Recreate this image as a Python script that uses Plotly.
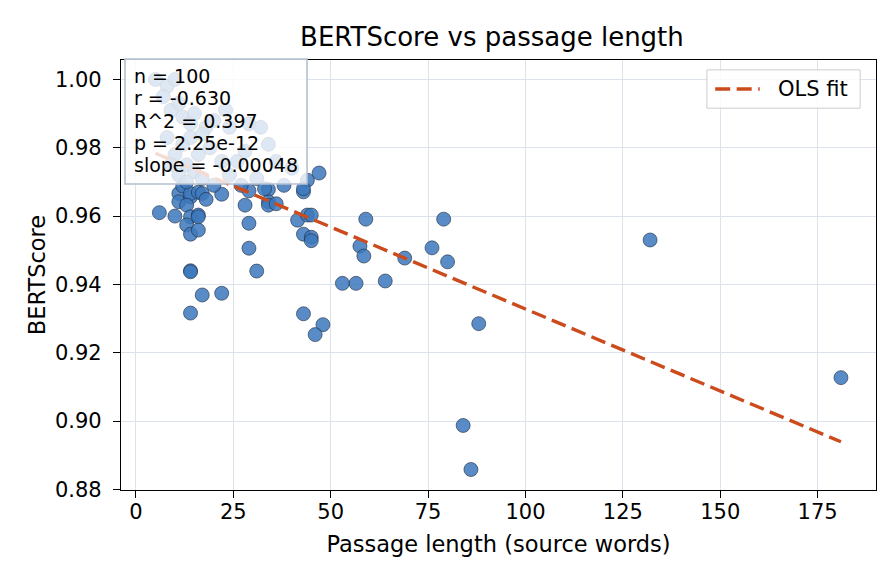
import numpy as np
import plotly.graph_objects as go

# passage length (source words) and BERTScore
passage_len = [
    6, 10, 11, 11, 12, 14, 14, 16, 17, 18, 13, 14, 16, 16, 13, 14, 16, 14, 14, 17,
    22, 14, 22, 28, 29, 29, 29, 31, 34, 34, 34, 36, 47, 44, 43, 41.5, 44, 45, 43, 45,
    45, 43, 48, 46, 53, 56.5, 57.5, 59, 58.5, 64, 69, 76, 79, 80, 88, 84, 86, 132, 181,
    # points hidden under the stats box
    5, 8, 10, 7, 9, 11, 12, 14, 15, 18, 20, 23, 24, 29, 32, 34, 10, 12, 13, 16,
    19, 22, 26, 28, 36, 40, 8, 11, 13, 15, 17, 20, 24, 27, 31, 33, 38, 43, 9, 14,
    17,
]
bertscore = [
    0.961, 0.960, 0.9666, 0.9642, 0.9688, 0.9656, 0.9666, 0.967, 0.9666, 0.9649,
    0.9632, 0.9598, 0.9603, 0.9598, 0.9574, 0.9547, 0.9559, 0.9440, 0.9437, 0.9369,
    0.9374, 0.9316, 0.9664, 0.9632, 0.9674, 0.9579, 0.9506, 0.9439, 0.9678, 0.9642,
    0.9632, 0.9636, 0.9726, 0.9705, 0.9671, 0.9588, 0.9603, 0.9603, 0.9547, 0.9538,
    0.9528, 0.9314, 0.9282, 0.9253, 0.9403, 0.9403, 0.9512, 0.9591, 0.9483, 0.941,
    0.9477, 0.9507, 0.9591, 0.9466, 0.9285, 0.8987, 0.8858, 0.953, 0.9127,
    1.000, 0.998, 1.000, 0.995, 0.991, 0.993, 0.989, 0.987, 0.990, 0.986,
    0.988, 0.991, 0.986, 0.987, 0.986, 0.981, 0.978, 0.981, 0.975, 0.978,
    0.980, 0.976, 0.976, 0.979, 0.976, 0.974, 0.983, 0.972, 0.970, 0.973,
    0.971, 0.969, 0.972, 0.969, 0.971, 0.968, 0.969, 0.968, 0.975, 0.983,
    0.984,
]

# OLS fit as reported in the chart
fit_slope = -0.00048
fit_intercept = 0.9808
stats_lines = ["n = 100", "r = -0.630", "R^2 = 0.397", "p = 2.25e-12", "slope = -0.00048"]

x_ticks = [0, 25, 50, 75, 100, 125, 150, 175]
y_ticks = [0.88, 0.90, 0.92, 0.94, 0.96, 0.98, 1.00]

FONT = "DejaVu Sans"
GRID = "#dde3ec"
FIT_COLOR = "#cc4b1c"
FIT_DASH = "15px,6.5px"

fit_x = np.array([min(passage_len), max(passage_len)])
fit_y = fit_intercept + fit_slope * fit_x

fig = go.Figure()
fig.add_trace(go.Scatter(
    x=passage_len, y=bertscore, mode="markers", showlegend=False,
    marker=dict(size=14, color="rgba(60,120,188,0.85)",
                line=dict(color="#1c2a3e", width=0.6))))
fig.add_trace(go.Scatter(
    x=fit_x, y=fit_y, mode="lines", name="OLS fit", showlegend=False,
    line=dict(color=FIT_COLOR, width=3.4, dash=FIT_DASH)))

# stats box (semi transparent, drawn over the points)
fig.add_shape(type="rect", xref="paper", yref="paper",
              x0=0.0053, x1=0.2464, y0=0.7116, y1=1.002,
              fillcolor="rgba(255,255,255,0.8)", layer="above",
              line=dict(color="#b4c0cf", width=1.6))
line_y = [0.9628, 0.9116, 0.858, 0.807, 0.7558]
for txt, yy in zip(stats_lines, line_y):
    fig.add_annotation(x=0.0146, y=yy, xref="paper", yref="paper",
                       text=txt, showarrow=False, xanchor="left", yanchor="middle",
                       font=dict(family=FONT, size=19, color="black"))

# legend box drawn by hand so the dashed sample is as long as the original
fig.add_shape(type="rect", xref="paper", yref="paper",
              x0=0.776, x1=0.979, y0=0.888, y1=0.977,
              fillcolor="rgba(255,255,255,0.8)", layer="above",
              line=dict(color="#cccccc", width=1))
fig.add_shape(type="line", xref="paper", yref="paper",
              x0=0.787, x1=0.846, y0=0.9326, y1=0.9326, layer="above",
              line=dict(color=FIT_COLOR, width=3.4, dash=FIT_DASH))
fig.add_annotation(x=0.868, y=0.9326, xref="paper", yref="paper",
                   text="OLS fit", showarrow=False, xanchor="left", yanchor="middle",
                   font=dict(family=FONT, size=21, color="black"))

axis_common = dict(showline=True, linecolor="black", linewidth=1.3, mirror=True,
                   ticks="outside", ticklen=7, tickwidth=1.2, tickcolor="black",
                   showgrid=True, gridcolor=GRID, gridwidth=1, zeroline=False,
                   automargin=False,
                   tickfont=dict(family=FONT, size=21, color="black"))

# the page adds an 8px body margin, so the figure is 8px smaller than the window
fig.update_layout(
    width=888, height=576,
    paper_bgcolor="white", plot_bgcolor="white",
    margin=dict(l=113, r=20, t=52, b=94),
    font=dict(family=FONT, color="black"),
    title=dict(text="BERTScore vs passage length", x=0.545, xanchor="center",
               y=0.9497, yanchor="middle", font=dict(family=FONT, size=26)),
    xaxis=dict(axis_common, range=[-3.85, 190], tickvals=x_ticks,
               ticklabelstandoff=-4,
               title=dict(text="Passage length (source words)", standoff=12,
                          font=dict(family=FONT, size=22.5))),
    yaxis=dict(axis_common, range=[0.8798, 1.0057], tickvals=y_ticks,
               tickformat=".2f", ticklabelstandoff=7,
               title=dict(text="BERTScore", standoff=3,
                          font=dict(family=FONT, size=22.5))),
    showlegend=False,
)

fig.write_html("out.html")
